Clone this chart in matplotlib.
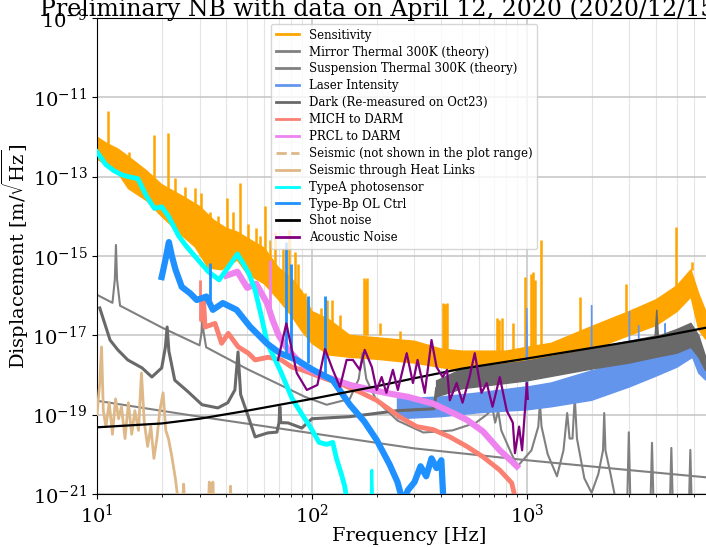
import numpy as np
import matplotlib
matplotlib.use("Agg")
import matplotlib.pyplot as plt
from matplotlib.lines import Line2D
from matplotlib.ticker import NullLocator

plt.rcParams['font.family'] = ['DejaVu Serif']
plt.rcParams['mathtext.fontset'] = 'dejavuserif'

# ---------------- data ----------------
title = "Preliminary NB with data on April 12, 2020 (2020/12/15 ver.)"
labels = ["Sensitivity", "Mirror Thermal 300K (theory)", "Suspension Thermal 300K (theory)",
          "Laser Intensity", "Dark (Re-measured on Oct23)", "MICH to DARM", "PRCL to DARM",
          "Seismic (not shown in the plot range)", "Seismic through Heat Links",
          "TypeA photosensor", "Type-Bp OL Ctrl", "Shot noise", "Acoustic Noise"]
yticks = [1e-21, 1e-19, 1e-17, 1e-15, 1e-13, 1e-11, 1e-9]

# Sensitivity: band envelope + narrow lines
sens_hi_f = [10, 11, 12.5, 14, 17, 20, 25, 30, 35, 40, 45, 52, 60, 70, 80, 90, 100, 120, 150, 300,
             400, 500, 800, 1000, 1300, 2000, 3000, 4000, 5000, 5800, 6300, 6800]
sens_hi = [1.0e-12, 7.1e-13, 5.0e-13, 3.2e-13, 1.41e-13, 6.3e-14, 3.2e-14, 1.78e-14, 7.9e-15, 5.0e-15,
           4.0e-15, 2.5e-15, 1.58e-15, 5.0e-16, 2.8e-16, 1.26e-16, 4.0e-17, 2.5e-17, 1.0e-17, 7.1e-18,
           4.5e-18, 4.0e-18, 4.0e-18, 5.0e-18, 6.3e-18, 1.66e-17, 4.0e-17, 7.9e-17, 1.78e-16, 4.5e-16,
           1.12e-16, 4.0e-17]
sens_lo_f = [10, 11, 12.5, 14, 17, 20, 25, 28.6, 33, 38, 45, 50, 60, 70, 80, 90, 100, 120, 150, 200,
             300, 500, 800, 1000, 1300, 2000, 3000, 4000, 5000, 5800, 6300, 6800]
sens_lo = [2.8e-13, 2.0e-13, 1.26e-13, 5.0e-14, 2.5e-14, 1.0e-14, 3.2e-15, 1.7e-15, 5.0e-16, 4.5e-16,
           7.9e-16, 3.55e-16, 2.0e-16, 7.9e-17, 3.2e-17, 1.26e-17, 6.3e-18, 3.2e-18, 2.8e-18, 2.5e-18,
           2.0e-18, 1.26e-18, 1.41e-18, 2.0e-18, 2.5e-18, 4.3e-18, 1.0e-17, 1.78e-17, 4.0e-17, 9.3e-17,
           1.41e-17, 7.9e-18]
sens_line_f = [11.3, 14.1, 18.5, 21.3, 23.0, 25.7, 28.6, 30.6, 33.5, 36.5, 40.1, 43, 46.3, 50.5, 55,
               57.5, 60.4, 64, 67, 73, 78.5, 83, 86, 93, 110, 118, 124, 135, 175, 178, 181, 207, 257,
               407, 412, 418, 425, 725, 740, 762, 860, 985, 1045, 1065, 1090, 1160, 1770, 2880, 4960,
               5850]
sens_line_base = [6.3e-13, 1.26e-13, 7.9e-14, 5.0e-14, 3.2e-14, 2.5e-14, 1.58e-14, 1.26e-14, 6.3e-15,
                  5.0e-15, 4.0e-15, 3.2e-15, 2.5e-15, 2.0e-15, 1.58e-15, 1.26e-15, 1.0e-15, 7.9e-16,
                  6.3e-16, 4.0e-16, 3.2e-16, 2.0e-16, 1.58e-16, 7.9e-17, 2.5e-17, 2.0e-17, 2.0e-17,
                  1.26e-17, 1.0e-17, 1.0e-17, 1.0e-17, 1.0e-17, 7.9e-18, 4.5e-18, 4.5e-18, 4.5e-18,
                  4.5e-18, 4.0e-18, 4.0e-18, 4.0e-18, 4.0e-18, 5.0e-18, 5.0e-18, 5.0e-18, 5.0e-18,
                  5.6e-18, 1.12e-17, 3.55e-17, 1.78e-16, 4.5e-16]
sens_line_top = [4.4e-12, 4.3e-13, 1.12e-12, 1.23e-12, 9.3e-14, 5.6e-14, 5.1e-14, 3.9e-14, 1.26e-14,
                 1.0e-14, 2.9e-14, 1.26e-14, 6.9e-14, 6.3e-15, 5.0e-15, 3.2e-15, 1.78e-14, 2.5e-15,
                 4.0e-15, 1.58e-15, 4.6e-15, 1.26e-15, 6.3e-16, 1.15e-16, 5.0e-17, 7.9e-17, 7.9e-17,
                 3.2e-17, 2.75e-16, 2.5e-16, 2.75e-16, 2.0e-17, 1.26e-17, 6.6e-17, 6.3e-17, 6.3e-17,
                 6.6e-17, 2.75e-17, 2.5e-17, 2.75e-17, 2.0e-17, 2.95e-16, 3.55e-16, 4.0e-16, 2.5e-16,
                 2.5e-15, 9.3e-17, 2.0e-16, 5.4e-15, 7.1e-16]

mirror_f = [10, 30, 100, 300, 1000, 3000, 7000]
mirror = [2.24e-19, 8.9e-20, 3.4e-20, 1.41e-20, 7.1e-21, 4.0e-21, 2.6e-21]

susp_f = [10, 11.8, 12.1, 12.25, 12.4, 12.8, 20, 30, 30.7, 31.0, 31.3, 32.2, 50, 93, 117, 150, 165,
          172, 179, 200, 250, 330, 450, 580, 650, 692, 712, 735, 760, 850, 905, 1050, 1130, 1150,
          1170, 1250, 1380, 1480, 1540, 1580, 1630, 1670, 1710, 1850, 2000, 2150, 2260, 2290, 2320,
          2450, 2600, 2930, 2980, 3030, 3760, 3820, 3880, 4630, 4700, 4770, 5680, 5760, 5840, 7000]
susp = [1.05e-16, 6.6e-17, 2.5e-16, 1.9e-15, 2.5e-16, 5.6e-17, 1.58e-17, 5.6e-18, 1.26e-17, 5.2e-17,
        1.26e-17, 5.0e-18, 1.41e-18, 2.8e-19, 1.78e-19, 2.5e-19, 7.9e-19, 3.55e-18, 7.9e-19, 2.24e-19,
        7.1e-20, 3.55e-20, 4.0e-20, 6.3e-20, 1.0e-19, 1.41e-19, 6.3e-20, 1.26e-19, 4.0e-20, 1.0e-20,
        5.0e-21, 1.26e-20, 5.0e-20, 2.0e-19, 5.0e-20, 1.0e-20, 2.8e-21, 1.26e-20, 1.1e-19, 2.5e-20,
        2.5e-20, 2.8e-19, 2.5e-20, 2.5e-21, 1.07e-21, 3.2e-21, 1.26e-20, 1.1e-19, 1.26e-20, 3.2e-21,
        6.3e-22, 6.3e-22, 3.6e-20, 6.3e-22, 6.3e-22, 1.95e-20, 6.3e-22, 6.3e-22, 1.45e-20, 6.3e-22,
        6.3e-22, 1.29e-20, 6.3e-22, 6.3e-22]

laser_hi_f = [250, 400, 600, 990, 1000, 1010, 1300, 1990, 2000, 2010, 2990, 3000, 3010, 3300, 3310,
              3320, 4390, 4400, 4410, 5000, 5900, 6300, 6800]
laser_hi = [2.5e-19, 2.8e-19, 3.55e-19, 5.0e-19, 4.9e-17, 5.0e-19, 6.3e-19, 1.26e-18, 5.75e-17,
            1.26e-18, 2.5e-18, 4.0e-17, 2.5e-18, 2.8e-18, 1.78e-17, 2.8e-18, 5.0e-18, 2.0e-17, 5.0e-18,
            6.3e-18, 1.12e-17, 4.0e-18, 2.0e-18]
laser_lo_f = [250, 400, 600, 1000, 1300, 2000, 3000, 3900, 5000, 5900, 6300, 6800]
laser_lo = [7.9e-20, 8.9e-20, 1.12e-19, 1.32e-19, 1.58e-19, 2.3e-19, 5.0e-19, 8.9e-19, 1.58e-18,
            2.8e-18, 1.12e-18, 7.4e-19]

dark_f = [10.3, 11.5, 12.5, 13.9, 16.2, 18, 20, 20.8, 21.2, 21.6, 23, 26.5, 30.8, 36.5, 40.6, 43.8,
          45.3, 46.6, 49.9, 54.4, 62.3, 68.7, 70.3, 70.9, 71.6, 77.4, 89.7, 100, 150, 250, 370, 380]
dark = [4.9e-17, 7.6e-18, 4.3e-18, 2.4e-18, 1.51e-18, 8.9e-19, 1.51e-18, 5.0e-18, 1.62e-17, 4.0e-18,
        7.4e-19, 3.8e-19, 1.78e-19, 1.48e-19, 2.0e-19, 4.2e-19, 3.8e-18, 3.2e-19, 1.1e-19, 2.75e-20,
        3.47e-20, 3.63e-20, 6.3e-20, 1.58e-19, 6.3e-20, 6.2e-20, 4.6e-20, 7.9e-20, 8.9e-20, 1.26e-19,
        1.41e-19, 4.5e-19]
dark_hi_f = [380, 500, 1000, 2000, 3000, 3950, 4020, 4090, 5000, 5800, 6300, 6800]
dark_hi = [7.1e-19, 1.41e-18, 2.24e-18, 4.5e-18, 7.1e-18, 9.5e-18, 4.4e-17, 9.5e-18, 1.41e-17,
           2.0e-17, 1.0e-17, 2.8e-18]
dark_lo_f = [380, 500, 1000, 2000, 3000, 4000, 5000, 5800, 6300, 6800]
dark_lo = [2.8e-19, 4.5e-19, 7.1e-19, 1.41e-18, 2.0e-18, 2.8e-18, 3.55e-18, 5.0e-18, 2.8e-18, 1.26e-18]

mich_f = [30.8, 31.3, 31.8, 35.4, 38, 40.8, 45.4, 50.6, 54.4, 62.6, 72, 80.6, 89.7, 110, 140,
          170, 200, 257, 307, 366, 438, 526, 624, 748, 850, 900]
mich = [2.5e-17, 7.9e-17, 1.62e-17, 2.0e-17, 6.3e-18, 1.12e-17, 5.1e-18, 3.55e-18, 2.4e-18,
        2.8e-18, 2.4e-18, 1.58e-18, 1.35e-18, 8.9e-19, 5.6e-19, 3.55e-19, 2.3e-19, 8.7e-20, 5.0e-20,
        4.2e-20, 2.75e-20, 1.58e-20, 8.7e-21, 4.0e-21, 1.9e-21, 5.0e-22]
mich_line_f = [30.3]
mich_line_base = [2.5e-17]
mich_line_top = [2.5e-16]

prcl_f = [40, 45, 50, 55, 62, 65.5, 70, 77, 85, 93, 110, 125, 150, 180, 220, 280, 366, 450, 526,
          624, 748, 860, 898]
prcl = [3.2e-16, 4.0e-16, 1.58e-16, 2.0e-16, 6.3e-17, 2.5e-17, 1.0e-17, 4.5e-18, 2.5e-18,
        1.58e-18, 1.0e-18, 7.9e-19, 5.6e-19, 4.5e-19, 3.55e-19, 2.8e-19, 1.9e-19, 1.12e-19, 7.4e-20,
        3.8e-20, 1.26e-20, 6.3e-21, 5.0e-21]
prcl_line_f = [63.7]
prcl_line_base = [4.0e-17]
prcl_line_top = [7.9e-16]

seismic_f = [10, 7000]
seismic = [1e-23, 1e-26]

heat_f = [10.0, 10.3, 10.5, 10.7, 11.0, 11.4, 11.8, 12.2, 12.6, 13.0, 13.5, 14.0, 14.5, 15.0, 15.6,
          16.1, 16.6, 17.2, 17.8, 18.4, 19.0, 19.6, 20.3, 20.9, 21.5, 22.3, 23.2, 24.0, 25.0, 25.3,
          25.6, 33.0, 33.3, 33.6, 34.3, 34.6, 34.9, 41.5, 41.8, 42.1]
heat = [1.0e-19, 6.3e-19, 5.1e-18, 1.26e-19, 5.0e-20, 2.0e-19, 3.2e-20, 2.5e-19, 7.9e-20, 1.58e-19,
        2.5e-20, 2.0e-19, 3.2e-20, 1.26e-19, 4.0e-20, 1.12e-18, 6.3e-20, 1.58e-20, 5.0e-20, 7.9e-21,
        2.5e-20, 1.26e-19, 3.55e-19, 4.0e-20, 2.5e-20, 8.7e-21, 2.3e-21, 5.0e-22, 5.0e-22, 1.78e-21,
        5.0e-22, 5.0e-22, 2.0e-21, 5.0e-22, 5.0e-22, 2.0e-21, 5.0e-22, 5.0e-22, 1.58e-21, 5.0e-22]

typea_f = [10, 11, 12, 13, 14, 15.5, 17, 18.5, 20, 21.5, 24, 26, 29, 33, 37, 40, 45, 48, 51, 54.4,
           58, 62, 71, 81, 90, 98, 108, 117, 125, 130, 137, 142, 147]
typea = [4.2e-13, 2.0e-13, 1.41e-13, 1.12e-13, 1.0e-13, 8.9e-14, 3.2e-14, 1.58e-14, 1.74e-14, 1.0e-14,
         3.2e-15, 1.78e-15, 8.9e-16, 4.0e-16, 2.5e-16, 4.5e-16, 1.12e-15, 6.3e-16, 3.55e-16, 1.38e-16,
         3.2e-17, 6.3e-18, 1.35e-18, 2.5e-19, 1.0e-19, 5.0e-20, 2.0e-20, 1.78e-20, 2.0e-20, 7.9e-21,
         3.2e-21, 1.58e-21, 5.0e-22]
typea2_f = [188, 190, 192]
typea2 = [5.0e-22, 4.0e-21, 5.0e-22]

typebp_f = [20.0, 20.8, 21.6, 22.3, 23.2, 24.8, 27.1, 29.1, 32.3, 34.6, 38.5, 44.6, 51.5, 61.6, 71,
            85, 101, 125, 150, 175, 200, 230, 250, 265, 280, 300, 320, 340, 360, 380, 400, 410]
typebp = [2.95e-16, 7.9e-16, 2.24e-15, 1.0e-15, 4.5e-16, 1.66e-16, 1.15e-16, 7.8e-17, 9.5e-17,
          4.4e-17, 6.5e-17, 4.4e-17, 1.66e-17, 6.3e-18, 3.55e-18, 2.4e-18, 1.35e-18, 7.4e-19, 1.78e-19,
          6.8e-20, 2.3e-20, 5.5e-21, 2.0e-21, 6.3e-22, 1.26e-21, 2.0e-21, 5.0e-21, 2.8e-21, 7.9e-21,
          4.5e-21, 7.1e-21, 5.0e-22]
typebp_line_f = [33.6, 75.5, 80.2, 96, 115]
typebp_line_base = [8.0e-17, 3.2e-18, 2.8e-18, 2.0e-18, 1.0e-18]
typebp_line_top = [6.6e-16, 2.24e-15, 6.3e-16, 1.0e-16, 1.0e-16]

shot_f = [10, 20, 30, 50, 100, 200, 300, 500, 1000, 2000, 4000, 7000]
shot = [4.8e-20, 6.0e-20, 7.9e-20, 1.26e-19, 2.5e-19, 5.2e-19, 8.3e-19, 1.45e-18, 2.6e-18, 4.8e-18,
        8.9e-18, 1.6e-17]

acoustic_f = [69.6, 76, 85, 94.7, 106, 115, 125, 135, 145, 155, 167, 176, 190, 200, 211, 222, 238, 251,
              276, 295, 310, 335, 360, 380, 406, 425, 438, 471, 502, 541, 572, 615, 650, 692, 748, 806,
              860, 880, 920, 950, 1000, 1010]
acoustic = [2.4e-18, 2.0e-17, 1.12e-18, 4.2e-19, 5.6e-19, 4.5e-18, 1.35e-18, 5.0e-19, 2.4e-18, 2.4e-18,
            1.35e-18, 4.3e-18, 1.58e-18, 4.2e-19, 8.9e-19, 3.55e-19, 1.35e-18, 4.2e-19, 3.55e-18,
            6.3e-19, 2.4e-18, 3.55e-19, 7.6e-18, 1.58e-18, 8.9e-19, 1.35e-18, 2.3e-19, 6.3e-19,
            2.0e-19, 8.9e-19, 3.55e-18, 3.55e-19, 6.3e-19, 1.58e-19, 8.9e-19, 1.26e-19, 6.3e-20,
            1.07e-20, 5.0e-20, 1.26e-20, 6.3e-19, 2.5e-19]

colors = {"sens": "orange", "mirror": "gray", "susp": "gray", "laser": "cornflowerblue",
          "dark": "dimgray", "mich": "salmon", "prcl": "violet", "seismic": "burlywood",
          "heat": "burlywood", "typea": "cyan", "typebp": "dodgerblue", "shot": "black",
          "acoustic": "purple"}

# ---------------- figure ----------------
fig = plt.figure(figsize=(7.06, 5.47), dpi=100)
ax = fig.add_axes([97 / 706, 53 / 547, 624 / 706, 476 / 547])
ax.set_xscale('log')
ax.set_yscale('log')


def band(fh, vh, fl, vl, color, z):
    xs = list(fh) + list(fl)[::-1]
    ys = list(vh) + list(vl)[::-1]
    ax.fill(xs, ys, facecolor=color, edgecolor=color, lw=1.0, zorder=z)


band(sens_hi_f, sens_hi, sens_lo_f, sens_lo, colors["sens"], 2.0)
ax.vlines(sens_line_f, sens_line_base, sens_line_top, color=colors["sens"], lw=1.8, zorder=2.0)
ax.plot(mirror_f, mirror, color=colors["mirror"], lw=1.5, zorder=2.1)
ax.plot(susp_f, susp, color=colors["susp"], lw=1.5, zorder=2.2)
band(laser_hi_f, laser_hi, laser_lo_f, laser_lo, colors["laser"], 2.3)
ax.plot(dark_f, dark, color=colors["dark"], lw=2.2, zorder=2.4)
band(dark_hi_f, dark_hi, dark_lo_f, dark_lo, colors["dark"], 2.4)
ax.plot(mich_f, mich, color=colors["mich"], lw=3.5, zorder=2.5)
ax.vlines(mich_line_f, mich_line_base, mich_line_top, color=colors["mich"], lw=2.0, zorder=2.5)
ax.plot(prcl_f, prcl, color=colors["prcl"], lw=4.5, zorder=2.6)
ax.vlines(prcl_line_f, prcl_line_base, prcl_line_top, color=colors["prcl"], lw=2.0, zorder=2.6)
ax.plot(seismic_f, seismic, color=colors["seismic"], lw=1.5, ls='--', zorder=2.7)
ax.plot(heat_f, heat, color=colors["heat"], lw=2.0, zorder=2.8)
ax.plot(typea_f, typea, color=colors["typea"], lw=3.5, zorder=2.9)
ax.plot(typea2_f, typea2, color=colors["typea"], lw=2.0, zorder=2.9)
ax.plot(typebp_f, typebp, color=colors["typebp"], lw=4.5, zorder=3.0)
ax.vlines(typebp_line_f, typebp_line_base, typebp_line_top, color=colors["typebp"], lw=2.0, zorder=3.0)
ax.plot(shot_f, shot, color=colors["shot"], lw=1.6, zorder=3.1)
ax.plot(acoustic_f, acoustic, color=colors["acoustic"], lw=1.6, zorder=3.2)

ax.set_xlim(10, 8000)
ax.set_ylim(1e-21, 1e-9)
ax.set_yticks(yticks)
ax.yaxis.set_minor_locator(NullLocator())
ax.set_axisbelow(True)
ax.grid(True, which='major', color='#c8c8c8', lw=1.2)
ax.xaxis.grid(True, which='minor', color='#e4e4e4', lw=0.8)
ax.tick_params(labelsize=14)
ax.set_xlabel("Frequency [Hz]", fontsize=14, labelpad=0)
ax.set_ylabel(r"Displacement [m/$\sqrt{\mathrm{Hz}}$]", fontsize=14, labelpad=1)

keys = ["sens", "mirror", "susp", "laser", "dark", "mich", "prcl", "seismic", "heat", "typea",
        "typebp", "shot", "acoustic"]
handles = [Line2D([], [], color=colors[k], lw=2, ls='--' if k == "seismic" else '-') for k in keys]
ax.legend(handles, labels, loc='upper center', bbox_to_anchor=(0.492, 1.0), fontsize=8.5,
          labelspacing=0.33, framealpha=0.8)

fig.text(40 / 706, 1 - 16 / 547, title, fontsize=17, ha='left', va='baseline')

fig.savefig("out.png", dpi=100)
